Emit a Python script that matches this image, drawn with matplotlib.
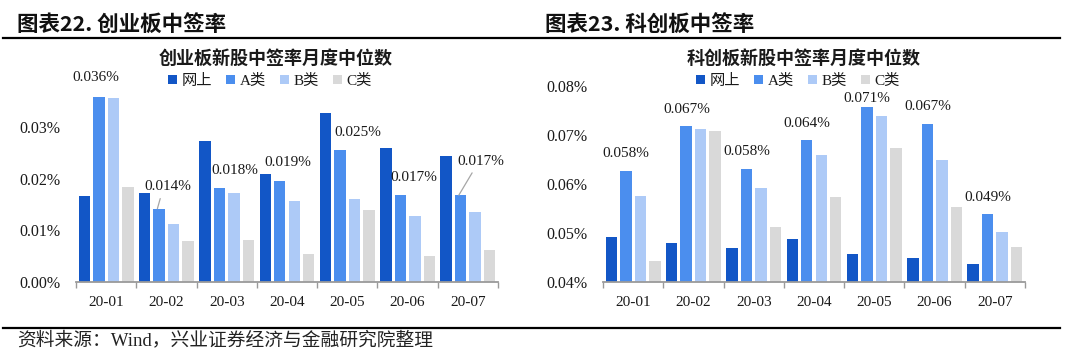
"""Recreate the 创业板 / 科创板 中签率 comparison figure."""

import matplotlib

matplotlib.use("Agg")
import matplotlib.pyplot as plt
import numpy as np
from matplotlib.lines import Line2D
from matplotlib.ticker import FixedLocator, FuncFormatter

plt.rcParams["font.family"] = ["Liberation Serif", "Noto Sans CJK SC"]

MONTHS = ["20-01", "20-02", "20-03", "20-04", "20-05", "20-06", "20-07"]
SERIES = ["网上", "A类", "B类", "C类"]
COLORS = ["#1256C6", "#4B8EEE", "#ADCAF7", "#D9D9D9"]

# 创业板 (values in %)
cyb_online = [0.0166, 0.0172, 0.0273, 0.0209, 0.0328, 0.0260, 0.0243]
cyb_a = [0.0359, 0.0142, 0.0181, 0.0195, 0.0255, 0.0169, 0.0168]
cyb_b = [0.0357, 0.0113, 0.0173, 0.0157, 0.0161, 0.0128, 0.0135]
cyb_c = [0.0184, 0.0079, 0.0082, 0.0055, 0.0140, 0.0050, 0.0061]
cyb_labels = [0.036, 0.014, 0.018, 0.019, 0.025, 0.017, 0.017]

# 科创板 (values in %)
kcb_online = [0.0491, 0.0479, 0.0469, 0.0488, 0.0458, 0.0449, 0.0436]
kcb_a = [0.0627, 0.0718, 0.0631, 0.0689, 0.0758, 0.0723, 0.0538]
kcb_b = [0.0576, 0.0712, 0.0591, 0.0660, 0.0738, 0.0648, 0.0503]
kcb_c = [0.0443, 0.0709, 0.0512, 0.0573, 0.0673, 0.0554, 0.0471]
kcb_labels = [0.058, 0.067, 0.058, 0.064, 0.071, 0.067, 0.049]

# label placement (pixels), hand-tuned like the moved Excel labels
cyb_label_dx = [-1, 10, 17, 10, 20, 15, 22]
cyb_label_dy = [19, 22, 18, 19, 18, 17, 34]
cyb_leader = [False, True, False, False, False, False, True]
kcb_label_dx = [-7] * 7
kcb_label_dy = [17, 17, 17, 17, 8, 17, 17]

W, H, DPI = 1080, 353, 100
PX = 72.0 / DPI  # pixel -> points
TEXT = "#1a1a1a"
AXIS_GRAY = "#9a9a9a"


def draw_panel(ax, series, ylim, yticks):
    x = np.arange(len(MONTHS))
    slot, width = 0.24, 0.19
    offsets = (np.arange(len(SERIES)) - 1.5) * slot
    for vals, name, color, off in zip(series, SERIES, COLORS, offsets):
        ax.bar(x + off, vals, width=width, color=color, label=name, zorder=2)
    ax.set_xlim(-0.5, len(MONTHS) - 0.5)
    ax.set_ylim(*ylim)
    ax.yaxis.set_major_locator(FixedLocator(yticks))
    ax.yaxis.set_major_formatter(FuncFormatter(lambda v, _: f"{v:.2f}%"))
    ax.set_xticks(x)
    ax.set_xticklabels(MONTHS)
    ax.set_xticks(np.arange(-0.5, len(MONTHS)), minor=True)
    ax.tick_params(axis="x", which="major", length=0, pad=10, labelsize=11, colors=TEXT)
    ax.tick_params(axis="x", which="minor", length=4, width=1.0, color=AXIS_GRAY)
    ax.tick_params(axis="y", length=0, pad=11, labelsize=11.5, colors=TEXT)
    for side in ("top", "right", "left"):
        ax.spines[side].set_visible(False)
    ax.spines["bottom"].set_color(AXIS_GRAY)
    ax.spines["bottom"].set_linewidth(1.3)
    return offsets


fig = plt.figure(figsize=(W / DPI, H / DPI), dpi=DPI)

ax1 = fig.add_axes([76 / W, 1 - 282 / H, 422 / W, 186 / H])
offs = draw_panel(ax1, [cyb_online, cyb_a, cyb_b, cyb_c], (0, 0.036), [0, 0.01, 0.02, 0.03])
for i, lab in enumerate(cyb_labels):
    arrow = None
    if cyb_leader[i]:
        arrow = dict(arrowstyle="-", color="#a6a6a6", lw=0.9, relpos=(0.38, 0.0), shrinkA=2, shrinkB=0)
    ax1.annotate(
        f"{lab:.3f}%",
        xy=(i + offs[1] - 0.03, cyb_a[i]),
        xytext=(cyb_label_dx[i] * PX, cyb_label_dy[i] * PX),
        textcoords="offset points",
        ha="center",
        va="center",
        fontsize=11,
        color=TEXT,
        arrowprops=arrow,
        annotation_clip=False,
    )

ax2 = fig.add_axes([603 / W, 1 - 282 / H, 422 / W, 196 / H])
kcb_series = [kcb_online, kcb_a, kcb_b, kcb_c]
draw_panel(ax2, kcb_series, (0.04, 0.08), [0.04, 0.05, 0.06, 0.07, 0.08])
group_max = np.max(np.array(kcb_series), axis=0)
for i, lab in enumerate(kcb_labels):
    ax2.annotate(
        f"{lab:.3f}%",
        xy=(i, group_max[i]),
        xytext=(kcb_label_dx[i] * PX, kcb_label_dy[i] * PX),
        textcoords="offset points",
        ha="center",
        va="center",
        fontsize=11,
        color=TEXT,
        annotation_clip=False,
    )

# subtitles and legends
for ax, title, cx in ((ax1, "创业板新股中签率月度中位数", 276), (ax2, "科创板新股中签率月度中位数", 804)):
    fig.text(cx / W, 1 - 58 / H, title, ha="center", va="center", fontsize=13,
             fontweight="bold", family="Noto Sans CJK SC", color=TEXT)
    ax.legend(
        loc="center",
        bbox_to_anchor=((cx - 6) / W, 1 - 81 / H),
        bbox_transform=fig.transFigure,
        ncol=4,
        frameon=False,
        fontsize=11,
        handlelength=0.6,
        handleheight=0.6,
        handletextpad=0.3,
        columnspacing=0.9,
        labelcolor=TEXT,
    )

# panel headings and rules
fig.text(17 / W, 1 - 25 / H, "图表22. 创业板中签率", ha="left", va="center", fontsize=15.5,
         fontweight="bold", family="Noto Sans CJK SC", color="#111111")
fig.text(545 / W, 1 - 25 / H, "图表23. 科创板中签率", ha="left", va="center", fontsize=15.5,
         fontweight="bold", family="Noto Sans CJK SC", color="#111111")
for yy in (37.5, 328):
    fig.add_artist(Line2D([3 / W, 1060 / W], [1 - yy / H, 1 - yy / H], color="black", lw=1.6,
                          transform=fig.transFigure))

fig.text(17 / W, 1 - 340 / H, "资料来源：Wind，兴业证券经济与金融研究院整理", ha="left", va="center",
         fontsize=13.5, color="#222222", family=["Liberation Serif", "Noto Sans CJK SC"])

fig.savefig("out.png", dpi=DPI)
